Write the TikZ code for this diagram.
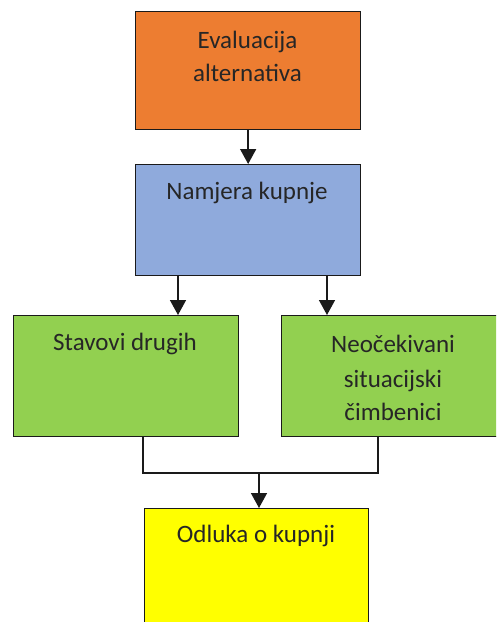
\documentclass[tikz,border=0pt]{standalone}
\usepackage{fontspec}
\setmainfont{Carlito}
\usetikzlibrary{arrows.meta}
\definecolor{cOrange}{HTML}{ED7D31}
\definecolor{cBlue}{HTML}{8FAADC}
\definecolor{cGreen}{HTML}{92D050}
\definecolor{cYellow}{HTML}{FFFF00}
\definecolor{cLine}{HTML}{1A1A1A}
\begin{document}
\begin{tikzpicture}[x=1pt,y=-1pt,
  box/.style={draw=cLine,line width=1.3pt,rectangle,inner sep=0pt,minimum width=225pt,minimum height=#1,anchor=north west},
  box/.default=118pt,
  txt/.style={font=\fontsize{25}{34}\selectfont,text=black!85,align=center,inner sep=0pt},
  conn/.style={draw=cLine,line width=1.5pt},
  arr/.style={conn,-{Triangle[length=15pt,width=16pt]}}]
\useasboundingbox (0,0) rectangle (496,622);
\begin{scope}
\clip (0,0) rectangle (496,622);
\node[box=118pt,fill=cOrange] (eval) at (135,11) {};
\node[box=111pt,fill=cBlue] (namj) at (135,164) {};
\node[box=121pt,fill=cGreen] (stav) at (13,315) {};
\node[box=121pt,fill=cGreen] (neoc) at (281,315) {};
\node[box=130pt,minimum width=224pt,fill=cYellow] (odl) at (144,508) {};
\end{scope}
\node[txt,anchor=base] (t1) at (247.5,48) {Evaluacija};
\node[txt,anchor=base] (t2) at (247.5,81) {alternativa};
\node[txt,anchor=base] (t3) at (247,199) {Namjera kupnje};
\node[txt,anchor=base] (t4) at (125,350) {Stavovi drugih};
\node[txt,anchor=base] (t5) at (393,352) {Neočekivani};
\node[txt,anchor=base] (t6) at (393,387) {situacijski};
\node[txt,anchor=base] (t7) at (393,420) {čimbenici};
\node[txt,anchor=base] (t8) at (256,542) {Odluka o kupnji};
\coordinate (j) at (259,473);
\draw[arr] (eval.south) -- (namj.north);
\draw[arr] (namj.south -| 178,0) -- (stav.north -| 178,0);
\draw[arr] (namj.south -| 327,0) -- (neoc.north -| 327,0);
\draw[conn] (stav.south -| 143,0) |- (j);
\draw[conn] (neoc.south -| 378,0) |- (j);
\draw[arr] (j) -- (odl.north -| j);
\end{tikzpicture}
\end{document}
